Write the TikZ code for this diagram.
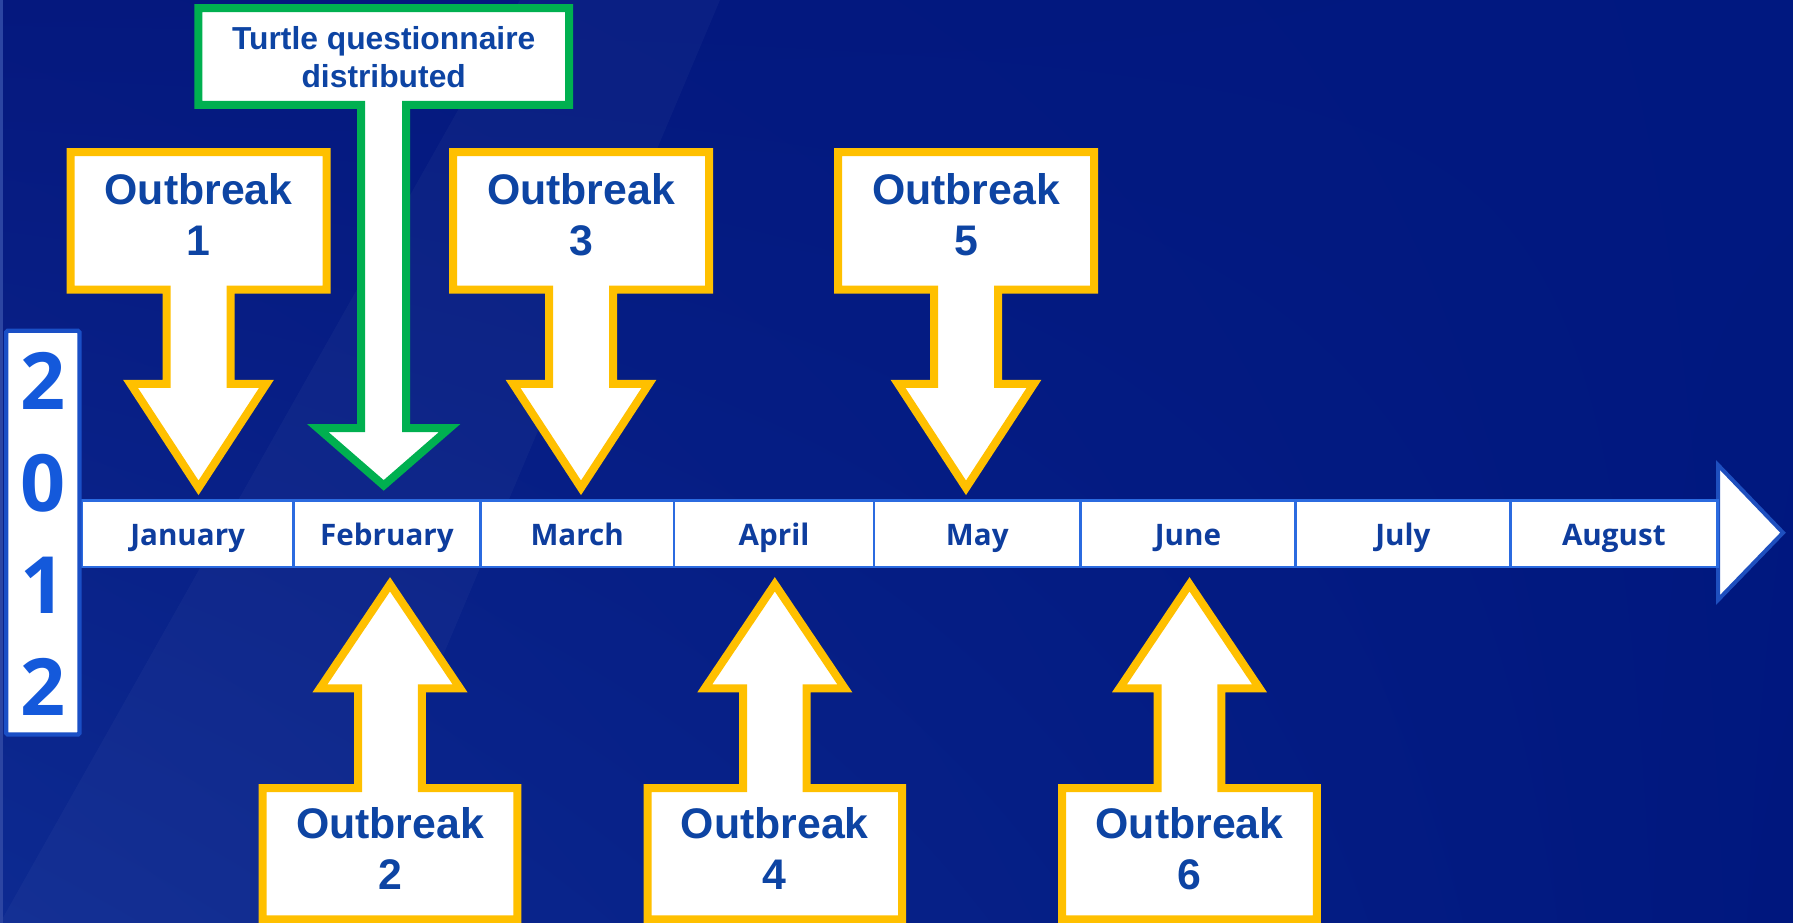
\documentclass[tikz,border=0pt]{standalone}
\usepackage{fontspec}
\usetikzlibrary{shadings}
\setmainfont{Liberation Sans}
\newfontfamily\uisans{Open Sans}

\definecolor{bgUL}{HTML}{05187E}
\definecolor{bgUR}{HTML}{001880}
\definecolor{bgLL}{HTML}{0D2A91}
\definecolor{bgLR}{HTML}{00177E}
\definecolor{edgestrip}{HTML}{2C45A2}
\definecolor{outbreakgold}{HTML}{FFC000}
\definecolor{surveygreen}{HTML}{00B050}
\definecolor{calloutblue}{HTML}{0D44A3}
\definecolor{monthblue}{HTML}{0E3D9E}
\definecolor{yearblue}{HTML}{1459DB}
\definecolor{yearframe}{HTML}{1A4FC6}
\definecolor{barframe}{HTML}{2B6BE0}
\definecolor{headframe}{HTML}{1E4FBF}

% Callout outline: a box on the far side, a shaft, and an arrow head.
% #1 style, #2 centre x, #3 far box edge y, #4 near box edge y,
% #5 half box width, #6 half shaft width, #7 shoulder y, #8 half head width, #9 tip y
\newcommand\calloutshape[9]{%
  \draw[#1] ({#2-#5},#3) -- ({#2+#5},#3) -- ({#2+#5},#4) -- ({#2+#6},#4)
    -- ({#2+#6},#7) -- ({#2+#8},#7) -- (#2,#9) -- ({#2-#8},#7)
    -- ({#2-#6},#7) -- ({#2-#6},#4) -- ({#2-#5},#4) -- cycle;}

\begin{document}
\begin{tikzpicture}[x=1pt,y=-1pt,
  callout/.style={fill=white, line width=8pt, line join=miter, miter limit=10},
  goldcallout/.style={callout, draw=outbreakgold},
  greencallout/.style={callout, draw=surveygreen},
  obtext/.style={font=\bfseries\fontsize{42.8}{51.5}\selectfont, text=calloutblue,
    align=center, inner sep=0pt, anchor=north},
  surveytext/.style={font=\bfseries\fontsize{31.8}{37.4}\selectfont, text=calloutblue,
    align=center, inner sep=0pt, anchor=north},
  monthcell/.style={draw=barframe, line width=2.6pt, fill=white, inner sep=0pt,
    minimum height=66.5pt, text height=22.8pt, text depth=0pt,
    font=\uisans\bfseries\fontsize{29.6}{34}\selectfont, text=monthblue},
  yeartext/.style={font=\uisans\bfseries\fontsize{79}{102.2}\selectfont, text=yearblue,
    align=center, inner sep=0pt, anchor=north}
]
\useasboundingbox (0,0) rectangle (1793,923);

% background
\shade[upper left=bgUL, upper right=bgUR, lower left=bgLL, lower right=bgLR]
  (0,0) rectangle (1793,923);
\fill[white, opacity=0.03] (0,923) -- (330,923) -- (720,0) -- (520,0) -- cycle;
\fill[edgestrip] (0,0) rectangle (3,923);

% survey callout (green)
\calloutshape{greencallout}{383.7}{8.2}{105}{185.4}{22.5}{428}{66}{485.4}
\node[surveytext] (survey) at (383.7,26.5) {Turtle questionnaire\\distributed};

% outbreak callouts above the time line
\calloutshape{goldcallout}{198.5}{152}{289.5}{128}{32}{383.8}{68}{487.8}
\calloutshape{goldcallout}{581}{152}{289.5}{128}{32}{383.8}{68}{487.8}
\calloutshape{goldcallout}{966}{152}{289.5}{128}{32}{383.8}{68}{487.8}
\node[obtext] (ob1) at (198.5,172.8) {Outbreak\\1};
\node[obtext] (ob3) at (581,172.8) {Outbreak\\3};
\node[obtext] (ob5) at (966,172.8) {Outbreak\\5};

% outbreak callouts below the time line
\calloutshape{goldcallout}{390}{919.3}{788}{127.3}{31.8}{688.3}{70}{584.3}
\calloutshape{goldcallout}{774.8}{919.3}{788}{127.3}{31.8}{688.3}{70}{584.3}
\calloutshape{goldcallout}{1189.5}{919.3}{788}{127.3}{31.8}{688.3}{70}{584.3}
\node[obtext] (ob2) at (390,807.1) {Outbreak\\2};
\node[obtext] (ob4) at (774.8,807.1) {Outbreak\\4};
\node[obtext] (ob6) at (1189.5,807.1) {Outbreak\\6};

% time line: arrow head, then month cells
\draw[headframe, fill=white, line width=4pt, line join=miter]
  (1718,465) -- (1783,532.7) -- (1718,600) -- cycle;
\node[monthcell, minimum width=212pt]   (jan) at (187.7,533.75)  {January};
\node[monthcell, minimum width=186.6pt] (feb) at (387,533.75)    {February};
\node[monthcell, minimum width=193.7pt] (mar) at (577.15,533.75) {March};
\node[monthcell, minimum width=200pt]   (apr) at (774,533.75)    {April};
\node[monthcell, minimum width=206.6pt] (may) at (977.3,533.75)  {May};
\node[monthcell, minimum width=214.8pt] (jun) at (1188,533.75)   {June};
\node[monthcell, minimum width=214.9pt] (jul) at (1402.85,533.75){July};
\node[monthcell, minimum width=207pt]   (aug) at (1613.8,533.75) {August};

% year label
\draw[yearframe, fill=white, line width=4.3pt, rounded corners=1.5pt]
  (6.2,330.8) rectangle (79.5,734.5);
\node[yeartext] (year) at (42.9,351.7) {2\\0\\1\\2};
\end{tikzpicture}
\end{document}
